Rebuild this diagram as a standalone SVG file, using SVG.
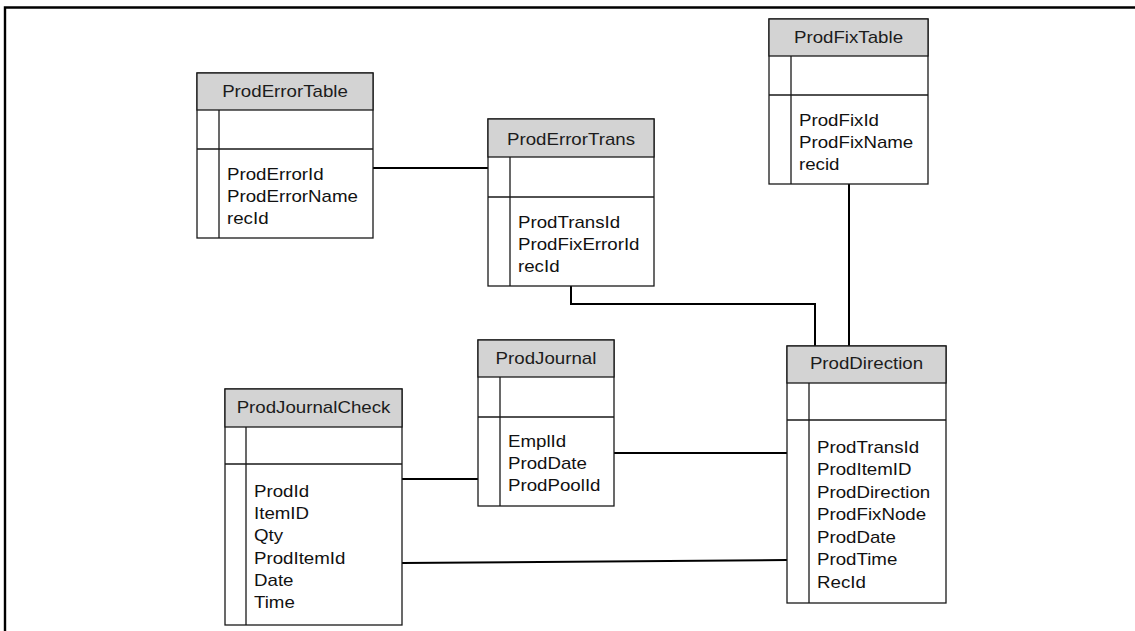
<svg xmlns="http://www.w3.org/2000/svg" width="1135" height="631" viewBox="0 0 1135 631">
  <style>
    .box { fill: #ffffff; stroke: #1a1a1a; stroke-width: 1.3; }
    .head { fill: #d3d3d3; stroke: #1a1a1a; stroke-width: 1.3; }
    .div { stroke: #1a1a1a; stroke-width: 1.3; fill: none; }
    .link { stroke: #000000; stroke-width: 2; fill: none; }
    .frame { stroke: #000000; stroke-width: 2.4; fill: none; }
    text { font-family: "Liberation Sans", Arial, sans-serif; font-size: 16.4px; fill: #111111; }
    .title { text-anchor: middle; fill: #1c1c1c; }
  </style>

  <!-- page frame -->
  <path class="frame" d="M5,631 V7.5 H1135"/>

  <!-- relationships -->
  <g id="connectors">
    <path class="link" d="M373,168 H494"/>
    <path class="link" d="M571,286 V304 H815 V346"/>
    <path class="link" d="M849,184 V346"/>
    <path class="link" d="M402,479 H478"/>
    <path class="link" d="M614,453 H787"/>
    <path class="link" d="M402,563 L787,560"/>
  </g>

  <g id="ProdErrorTable">
    <rect class="box" x="197" y="73" width="176" height="165"/>
    <rect class="head" x="197" y="73" width="176" height="37"/>
    <path class="div" d="M197,149 H373 M219,110 V238"/>
    <text class="title" transform="translate(285,97) scale(1.14,1)">ProdErrorTable</text>
    <text transform="translate(227,180) scale(1.14,1)"><tspan x="0" y="0">ProdErrorId</tspan><tspan x="0" dy="22">ProdErrorName</tspan><tspan x="0" dy="22">recId</tspan></text>
  </g>

  <g id="ProdErrorTrans">
    <rect class="box" x="488" y="119" width="166" height="167"/>
    <rect class="head" x="488" y="119" width="166" height="38"/>
    <path class="div" d="M488,197 H654 M510,157 V286"/>
    <text class="title" transform="translate(571,145) scale(1.14,1)">ProdErrorTrans</text>
    <text transform="translate(518,228) scale(1.14,1)"><tspan x="0" y="0">ProdTransId</tspan><tspan x="0" dy="22">ProdFixErrorId</tspan><tspan x="0" dy="22">recId</tspan></text>
  </g>

  <g id="ProdFixTable">
    <rect class="box" x="769" y="19" width="159" height="165"/>
    <rect class="head" x="769" y="19" width="159" height="37"/>
    <path class="div" d="M769,95 H928 M791,56 V184"/>
    <text class="title" transform="translate(848.5,43) scale(1.14,1)">ProdFixTable</text>
    <text transform="translate(799,126) scale(1.14,1)"><tspan x="0" y="0">ProdFixId</tspan><tspan x="0" dy="22">ProdFixName</tspan><tspan x="0" dy="22">recid</tspan></text>
  </g>

  <g id="ProdJournal">
    <rect class="box" x="478" y="340" width="136" height="166"/>
    <rect class="head" x="478" y="340" width="136" height="37"/>
    <path class="div" d="M478,417 H614 M500,377 V506"/>
    <text class="title" transform="translate(546,364) scale(1.14,1)">ProdJournal</text>
    <text transform="translate(508,447) scale(1.14,1)"><tspan x="0" y="0">EmplId</tspan><tspan x="0" dy="22">ProdDate</tspan><tspan x="0" dy="22">ProdPoolId</tspan></text>
  </g>

  <g id="ProdJournalCheck">
    <rect class="box" x="225" y="389" width="177" height="236"/>
    <rect class="head" x="225" y="389" width="177" height="38"/>
    <path class="div" d="M225,464 H402 M246,427 V625"/>
    <text class="title" transform="translate(313.5,413) scale(1.14,1)">ProdJournalCheck</text>
    <text transform="translate(254,497) scale(1.14,1)"><tspan x="0" y="0">ProdId</tspan><tspan x="0" dy="22.2">ItemID</tspan><tspan x="0" dy="22.2">Qty</tspan><tspan x="0" dy="22.2">ProdItemId</tspan><tspan x="0" dy="22.2">Date</tspan><tspan x="0" dy="22.2">Time</tspan></text>
  </g>

  <g id="ProdDirection">
    <rect class="box" x="787" y="346" width="159" height="257"/>
    <rect class="head" x="787" y="346" width="159" height="37"/>
    <path class="div" d="M787,420 H946 M809,383 V603"/>
    <text class="title" transform="translate(866.5,369) scale(1.14,1)">ProdDirection</text>
    <text transform="translate(817,453) scale(1.14,1)"><tspan x="0" y="0">ProdTransId</tspan><tspan x="0" dy="22.5">ProdItemID</tspan><tspan x="0" dy="22.5">ProdDirection</tspan><tspan x="0" dy="22.5">ProdFixNode</tspan><tspan x="0" dy="22.5">ProdDate</tspan><tspan x="0" dy="22.5">ProdTime</tspan><tspan x="0" dy="22.5">RecId</tspan></text>
  </g>
</svg>
